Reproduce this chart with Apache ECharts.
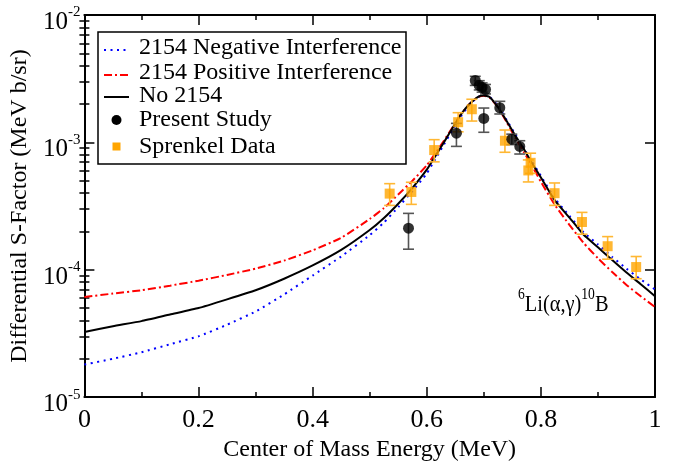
<!DOCTYPE html>
<html><head><meta charset="utf-8">
<script src="https://cdn.jsdelivr.net/npm/echarts@6/dist/echarts.min.js"></script>
<style>html,body{margin:0;padding:0;background:#fff}#c{width:680px;height:467px}</style>
</head><body><div id="c"></div>
<script>
// ---- data ----
const curveX = [0, 0.05, 0.1, 0.15, 0.2, 0.25, 0.3, 0.35, 0.4, 0.45, 0.5, 0.525, 0.55, 0.575, 0.6, 0.615, 0.63, 0.645, 0.66, 0.675, 0.69, 0.7, 0.71, 0.725, 0.74, 0.755, 0.77, 0.785, 0.8, 0.825, 0.85, 0.875, 0.9, 0.925, 0.95, 0.975, 1.0];
const negInterference = [1.8e-5, 2.0e-5, 2.25e-5, 2.6e-5, 3.0e-5, 3.7e-5, 4.7e-5, 6.4e-5, 9.0e-5, 1.27e-4, 1.87e-4, 2.35e-4, 3.1e-4, 4.15e-4, 5.7e-4, 7.4e-4, 9.6e-4, 1.25e-3, 1.6e-3, 1.98e-3, 2.28e-3, 2.34e-3, 2.28e-3, 1.94e-3, 1.5e-3, 1.16e-3, 9.0e-4, 7.0e-4, 5.45e-4, 3.6e-4, 2.65e-4, 1.97e-4, 1.58e-4, 1.26e-4, 1.02e-4, 8.4e-5, 7.0e-5];
const posInterference = [6.1e-5, 6.5e-5, 6.9e-5, 7.5e-5, 8.2e-5, 9.1e-5, 1.02e-4, 1.18e-4, 1.42e-4, 1.78e-4, 2.5e-4, 3.05e-4, 3.9e-4, 5.0e-4, 6.6e-4, 8.2e-4, 1.03e-3, 1.31e-3, 1.67e-3, 2.0e-3, 2.27e-3, 2.32e-3, 2.25e-3, 1.88e-3, 1.44e-3, 1.09e-3, 8.4e-4, 6.5e-4, 4.9e-4, 3.2e-4, 2.25e-4, 1.62e-4, 1.23e-4, 9.6e-5, 7.6e-5, 6.2e-5, 5.1e-5];
const no2154 = [3.25e-5, 3.6e-5, 3.95e-5, 4.45e-5, 5.0e-5, 5.85e-5, 6.9e-5, 8.5e-5, 1.08e-4, 1.43e-4, 2.05e-4, 2.55e-4, 3.3e-4, 4.4e-4, 6.1e-4, 7.8e-4, 1.0e-3, 1.29e-3, 1.66e-3, 2.0e-3, 2.28e-3, 2.33e-3, 2.27e-3, 1.88e-3, 1.47e-3, 1.13e-3, 8.9e-4, 6.8e-4, 5.3e-4, 3.47e-4, 2.57e-4, 1.88e-4, 1.5e-4, 1.19e-4, 9.5e-5, 7.7e-5, 6.2e-5];

const presentX = [0.568, 0.652, 0.685, 0.692, 0.697, 0.700, 0.703, 0.728, 0.749, 0.763];
const presentY = [2.12e-4, 1.18e-3, 3.06e-3, 2.8e-3, 2.7e-3, 1.54e-3, 2.6e-3, 1.87e-3, 1.06e-3, 9.3e-4];
const presentLow = [1.45e-4, 9.3e-4, 2.8e-3, 2.58e-3, 2.48e-3, 1.2e-3, 2.4e-3, 1.67e-3, 9.6e-4, 8.1e-4];
const presentHigh = [2.77e-4, 1.41e-3, 3.3e-3, 3.05e-3, 2.93e-3, 1.86e-3, 2.85e-3, 2.1e-3, 1.16e-3, 1.03e-3];

const sprenkelX = [0.535, 0.573, 0.613, 0.655, 0.679, 0.737, 0.778, 0.782, 0.824, 0.872, 0.917, 0.967];
const sprenkelY = [3.96e-4, 4.08e-4, 8.7e-4, 1.44e-3, 1.82e-3, 1.03e-3, 6.02e-4, 6.91e-4, 3.99e-4, 2.37e-4, 1.53e-4, 1.05e-4];
const sprenkelLow = [3.2e-4, 3.26e-4, 7.03e-4, 1.21e-3, 1.47e-3, 8.36e-4, 4.89e-4, 5.71e-4, 3.2e-4, 1.9e-4, 1.21e-4, 8.5e-5];
const sprenkelHigh = [4.74e-4, 4.86e-4, 1.05e-3, 1.71e-3, 2.18e-3, 1.25e-3, 7.28e-4, 8.22e-4, 4.8e-4, 2.82e-4, 1.82e-4, 1.27e-4];

const yMajorTicks = [1e-5, 1e-4, 1e-3, 1e-2];
const yMinorMultipliers = [2, 3, 4, 5, 6, 7, 8, 9];
const seriesNames = ['2154 Negative Interference', '2154 Positive Interference', 'No 2154', 'Present Study', 'Sprenkel Data'];

// ---- helpers ----
const FONT = "'Liberation Serif','Times New Roman',serif";
const pairs = (xs, ys) => xs.map((x, i) => [x, ys[i]]);
const yMinorTicks = [];
yMajorTicks.slice(0, -1).forEach(d => yMinorMultipliers.forEach(m => yMinorTicks.push(d * m)));

const BLUE = '#0000ff', RED = '#ff0000', ORANGE = '#ffa500', ORANGE_BAR = '#ffb733';

function errorBars(xs, lo, hi, color) {
  return {
    type: 'custom', xAxisIndex: 0, yAxisIndex: 0, silent: true, z: 3,
    data: xs.map((x, i) => [x, lo[i], hi[i]]),
    encode: { x: 0, y: [1, 2] },
    renderItem: function (params, api) {
      const a = api.coord([api.value(0), api.value(1)]);
      const b = api.coord([api.value(0), api.value(2)]);
      const w = 5.5;
      const st = { stroke: color, lineWidth: 1.6 };
      return { type: 'group', children: [
        { type: 'line', shape: { x1: a[0], y1: a[1], x2: b[0], y2: b[1] }, style: st },
        { type: 'line', shape: { x1: a[0] - w, y1: a[1], x2: a[0] + w, y2: a[1] }, style: st },
        { type: 'line', shape: { x1: b[0] - w, y1: b[1], x2: b[0] + w, y2: b[1] }, style: st }
      ]};
    }
  };
}

const axisLineStyle = { color: '#000', width: 2 };
const tickStyle = { color: '#000', width: 1.5 };

const xAxisBase = {
  type: 'value', min: 0, max: 1, interval: 0.2,
  axisLine: { show: true, onZero: false, lineStyle: axisLineStyle },
  axisTick: { show: true, inside: true, length: 10, lineStyle: tickStyle },
  minorTick: { show: true, splitNumber: 2, length: 5, lineStyle: tickStyle },
  splitLine: { show: false }, minorSplitLine: { show: false }
};

const yLabelFmt = v => '{b|10}{s|' + Math.round(Math.log10(v)) + '}';

// manual legend (box, samples, texts)
const LG = { x: 98, y: 32, w: 308, h: 132, sx1: 104, sx2: 129, tx: 139, rows: [48, 73, 96, 120, 146.5] };
const legendText = (i) => ({ type: 'text', x: LG.tx, y: LG.rows[i], z: 20,
  style: { text: seriesNames[i], font: '24px ' + FONT, fill: '#000', verticalAlign: 'middle', align: 'left' } });
const legendGraphic = {
  type: 'group', z: 20, children: [
    { type: 'rect', shape: { x: LG.x, y: LG.y, width: LG.w, height: LG.h }, style: { fill: '#fff', stroke: '#000', lineWidth: 1.5 }, z: 20 },
    { type: 'line', shape: { x1: LG.sx1, y1: LG.rows[0] + 2, x2: LG.sx2, y2: LG.rows[0] + 2 }, style: { stroke: BLUE, lineWidth: 2, lineDash: [2, 4.5] }, z: 21 },
    { type: 'line', shape: { x1: LG.sx1, y1: LG.rows[1] + 2, x2: LG.sx2, y2: LG.rows[1] + 2 }, style: { stroke: RED, lineWidth: 2, lineDash: [8, 3, 2, 3] }, z: 21 },
    { type: 'line', shape: { x1: LG.sx1, y1: LG.rows[2] + 1, x2: LG.sx2, y2: LG.rows[2] + 1 }, style: { stroke: '#000', lineWidth: 2 }, z: 21 },
    { type: 'circle', shape: { cx: 116.5, cy: LG.rows[3], r: 5 }, style: { fill: '#000' }, z: 21 },
    { type: 'rect', shape: { x: 112.5, y: LG.rows[4] - 4, width: 8, height: 8 }, style: { fill: ORANGE }, z: 21 },
    legendText(0), legendText(1), legendText(2), legendText(3), legendText(4)
  ]
};

const option = {
  animation: false,
  backgroundColor: '#fff',
  textStyle: { fontFamily: FONT },
  grid: { left: 84, right: 25, top: 15, bottom: 54, containLabel: false },
  xAxis: [
    Object.assign({}, xAxisBase, {
      position: 'bottom',
      name: 'Center of Mass Energy (MeV)', nameLocation: 'middle', nameGap: 31,
      nameTextStyle: { fontFamily: FONT, fontSize: 24, color: '#000' },
      axisLabel: { show: true, margin: 10, fontFamily: FONT, fontSize: 26, color: '#000' }
    }),
    Object.assign({}, xAxisBase, { position: 'top', axisLabel: { show: false } })
  ],
  yAxis: [
    {
      type: 'log', logBase: 10, min: 1e-5, max: 1e-2, position: 'left',
      name: 'Differential S-Factor (MeV b/sr)', nameLocation: 'middle', nameGap: 52,
      nameTextStyle: { fontFamily: FONT, fontSize: 24, color: '#000' },
      axisLine: { show: true, onZero: false, lineStyle: axisLineStyle },
      axisTick: { show: true, inside: true, length: 10, lineStyle: tickStyle, customValues: yMajorTicks },
      axisLabel: {
        show: true, margin: 4, customValues: yMajorTicks, formatter: yLabelFmt, padding: [10, 0, 0, 0],
        rich: {
          b: { fontFamily: FONT, fontSize: 25, color: '#000', lineHeight: 30, verticalAlign: 'bottom' },
          s: { fontFamily: FONT, fontSize: 15, color: '#000', lineHeight: 30, verticalAlign: 'top' }
        }
      },
      splitLine: { show: false }
    },
    {
      type: 'log', logBase: 10, min: 1e-5, max: 1e-2, position: 'right',
      axisLine: { show: true, onZero: false, lineStyle: axisLineStyle },
      axisTick: { show: true, inside: true, length: 10, lineStyle: tickStyle, customValues: yMajorTicks },
      axisLabel: { show: false }, splitLine: { show: false }
    },
    {
      type: 'log', logBase: 10, min: 1e-5, max: 1e-2, position: 'left',
      axisLine: { show: false },
      axisTick: { show: true, inside: true, length: 5, lineStyle: tickStyle, customValues: yMinorTicks },
      axisLabel: { show: false }, splitLine: { show: false }
    },
    {
      type: 'log', logBase: 10, min: 1e-5, max: 1e-2, position: 'right',
      axisLine: { show: false },
      axisTick: { show: true, inside: true, length: 5, lineStyle: tickStyle, customValues: yMinorTicks },
      axisLabel: { show: false }, splitLine: { show: false }
    }
  ],
  graphic: [
    legendGraphic,
    {
      type: 'text', x: 518, y: 287, scaleX: 0.85, originX: 0, z: 10,
      style: {
        text: '{s|6}{m|Li(α,γ)}{s|10}{m|B}',
        rich: {
          m: { fontFamily: FONT, fontSize: 24, fill: '#000', lineHeight: 30, verticalAlign: 'bottom' },
          s: { fontFamily: FONT, fontSize: 16, fill: '#000', lineHeight: 30, verticalAlign: 'top' }
        }
      }
    }
  ],
  series: [
    { name: seriesNames[0], type: 'line', data: pairs(curveX, negInterference), showSymbol: false, symbol: 'none',
      smooth: 0.15, z: 2,
      lineStyle: { color: BLUE, width: 2, type: [2, 4.5] }, itemStyle: { color: BLUE } },
    { name: seriesNames[1], type: 'line', data: pairs(curveX, posInterference), showSymbol: false, symbol: 'none',
      smooth: 0.15, z: 2,
      lineStyle: { color: RED, width: 2, type: [8, 3, 2, 3] }, itemStyle: { color: RED } },
    { name: seriesNames[2], type: 'line', data: pairs(curveX, no2154), showSymbol: false, symbol: 'none',
      smooth: 0.15, z: 2,
      lineStyle: { color: '#000', width: 2 }, itemStyle: { color: '#000' } },
    errorBars(sprenkelX, sprenkelLow, sprenkelHigh, ORANGE_BAR),
    errorBars(presentX, presentLow, presentHigh, '#555555'),
    { name: seriesNames[4], type: 'scatter', data: pairs(sprenkelX, sprenkelY), symbol: 'rect', symbolSize: 10, z: 4,
      itemStyle: { color: ORANGE } },
    { name: seriesNames[3], type: 'scatter', data: pairs(presentX, presentY), symbol: 'circle', symbolSize: 11, z: 5,
      itemStyle: { color: '#000' } }
  ]
};

const chart = echarts.init(document.getElementById('c'), null, { renderer: 'canvas' });
chart.setOption(option);
</script>
</body></html>
